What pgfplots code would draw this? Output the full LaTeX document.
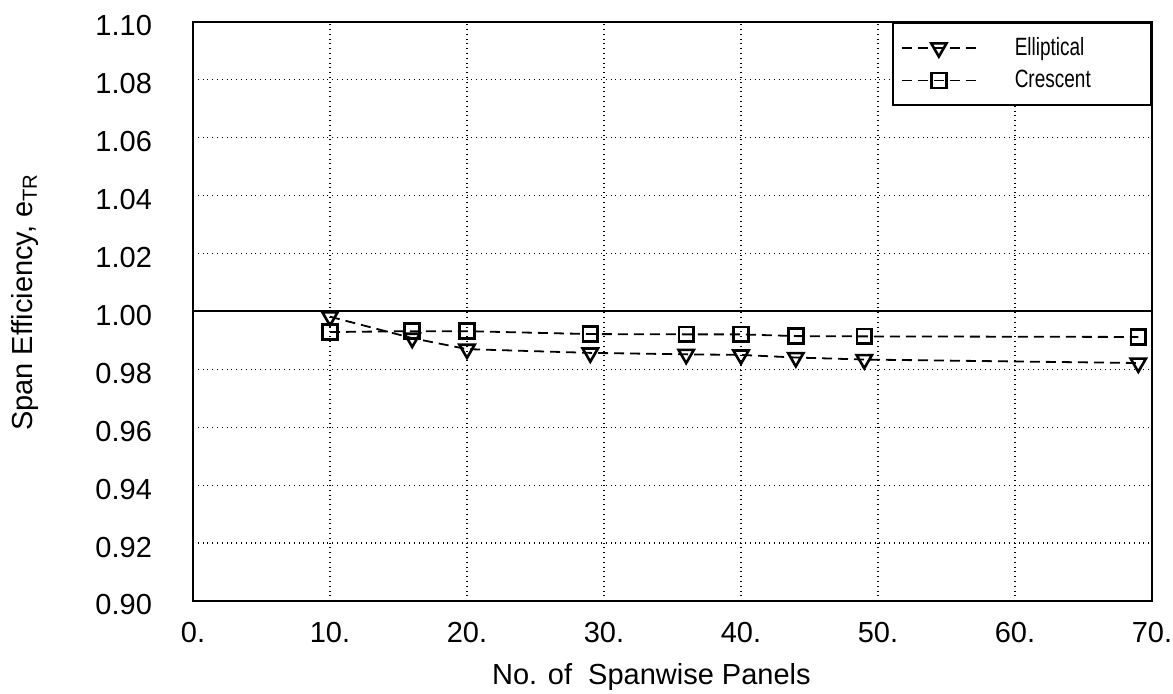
\documentclass[border=0pt]{standalone}
\usepackage{fontspec}
\setmainfont{Liberation Sans}
\newfontfamily\legendfont[FakeStretch=0.76]{Liberation Sans}
\usepackage{pgfplots}
\pgfplotsset{compat=1.18}
\begin{document}
\begin{tikzpicture}
\path[use as bounding box] (-96.5pt,-46.5pt) rectangle (490pt,300.5pt);
\begin{axis}[
  scale only axis,
  width=479.5pt, height=289.5pt,
  xmin=0, xmax=70, ymin=0.90, ymax=1.10,
  xtick={0,10,20,30,40,50,60,70},
  xticklabels={0.,10.,20.,30.,40.,50.,60.,70.},
  ytick={0.90,0.92,0.94,0.96,0.98,1.00,1.02,1.04,1.06,1.08,1.10},
  /pgf/number format/fixed,
  /pgf/number format/fixed zerofill,
  /pgf/number format/precision=2,
  /pgf/number format/assume math mode=true,
  yticklabel style={xshift=-17pt, yshift=-2pt},
  xticklabel style={yshift=-7pt},
  major tick length=0pt,
  tick label style={font=\fontsize{14.5}{17}\selectfont},
  label style={font=\fontsize{14.5}{17}\selectfont},
  grid=major,
  grid style={black, dotted, line width=0.6pt},
  axis line style={line width=1.3pt},
  xlabel={No. of\ \ Spanwise Panels},
  ylabel={Span Efficiency, e\textsubscript{TR}},
  xlabel style={at={(axis description cs:0.478,0)}, anchor=center, yshift=-38pt},
  ylabel style={at={(axis description cs:-0.175,0.516)}, anchor=center},
  legend style={at={(1,1)}, anchor=north east, draw=black, line width=1.2pt,
    font=\legendfont\fontsize{12.5}{14}\selectfont, inner xsep=4pt, inner ysep=5pt, row sep=2pt,
    /tikz/every odd column/.append style={column sep=17pt}},
  legend cell align=left,
  legend image code/.code={\draw[mark repeat=2,mark phase=2,#1] plot coordinates {(0pt,0pt) (18.5pt,0pt) (37pt,0pt)};},
]
\draw[line width=1pt] (axis cs:0,1.0) -- (axis cs:70,1.0);
\addplot[black, line width=0.9pt, dash pattern=on 5pt off 3pt, mark=triangle, mark size=4.4pt,
  mark options={solid, rotate=180, line width=1.3pt, fill=white}]
  coordinates {(10,0.9982) (16,0.9908) (20,0.9870) (29,0.9857) (36,0.9852) (40,0.9850) (44,0.9841) (49,0.9834) (69,0.9822)};
\addlegendentry{Elliptical\hspace*{24pt}}
\addplot[black, line width=0.9pt, dash pattern=on 5pt off 3pt, mark=square, mark size=3.7pt,
  mark options={solid, line width=1.3pt}]
  coordinates {(10,0.9929) (16,0.9932) (20,0.9932) (29,0.9922) (36,0.9921) (40,0.9921) (44,0.9915) (49,0.9914) (69,0.9912)};
\addlegendentry{Crescent\hspace*{24pt}}
\end{axis}
\end{tikzpicture}
\end{document}
